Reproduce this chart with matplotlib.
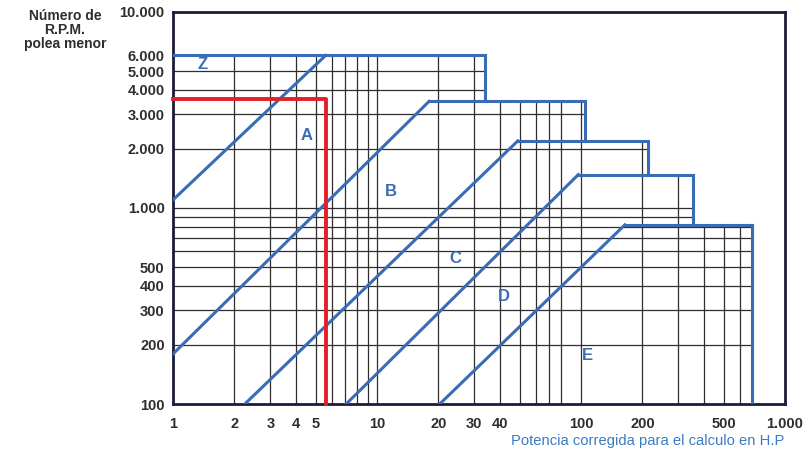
import matplotlib.pyplot as plt
from matplotlib.patches import Polygon

# axis ticks
hp_ticks = [1, 2, 3, 4, 5, 10, 20, 30, 40, 100, 200, 500, 1000]
hp_labels = ['1', '2', '3', '4', '5', '10', '20', '30', '40', '100', '200', '500', '1.000']
rpm_ticks = [100, 200, 300, 400, 500, 1000, 2000, 3000, 4000, 5000, 6000, 10000]
rpm_labels = ['100', '200', '300', '400', '500', '1.000', '2.000', '3.000', '4.000',
              '5.000', '6.000', '10.000']

# grid lines (only drawn inside the stepped region)
grid_hp = [2, 3, 4, 5, 6, 7, 8, 9, 10, 20, 30, 40, 50, 60, 70, 80, 100, 200, 300, 400, 500, 600]
grid_rpm = [200, 300, 400, 500, 600, 700, 800, 900, 1000, 2000, 3000, 4000, 5000]

# staircase: each section's top (rpm), where its top line starts and where it ends (HP)
step_top = [6000, 3500, 2200, 1480, 820]
step_start = [1, 18, 49, 97, 164]
step_end = [34, 105, 212, 356, 690]

# diagonal section boundaries (HP, rpm) start -> end
diag_hp0 = [1, 1, 2.25, 7.06, 20.3]
diag_rpm0 = [1100, 180, 100, 100, 100]
diag_hp1 = [5.6, 18, 49, 97, 164]
diag_rpm1 = [6000, 3500, 2200, 1480, 820]

# section names
sections = ['Z', 'A', 'B', 'C', 'D', 'E']
sec_hp = [1.4, 4.5, 11.7, 24.3, 42, 108]
sec_rpm = [5400, 2350, 1220, 555, 355, 177]

# selected point (red)
sel_hp = 5.6
sel_rpm = 3600

blue = '#3a6cb5'
dark = '#2e2e2e'
navy = '#1c1c3a'

fig = plt.figure(figsize=(8.04, 4.55), dpi=100)
ax = fig.add_axes([173 / 804, 1 - 404 / 455, 612 / 804, 392 / 455])
ax.set_xscale('log')
ax.set_yscale('log')
ax.set_xlim(1, 1000)
ax.set_ylim(100, 10000)

# clip region for the grid
verts = [(1, 100), (1, step_top[0])]
for i in range(len(step_top)):
    verts.append((step_end[i], step_top[i]))
    nxt = step_top[i + 1] if i + 1 < len(step_top) else 100
    verts.append((step_end[i], nxt))
region = Polygon(verts, closed=True, transform=ax.transData)

vl = ax.vlines(grid_hp, 100, 10000, colors=dark, linewidth=0.9, zorder=1)
hl = ax.hlines(grid_rpm, 1, 1000, colors=dark, linewidth=0.9, zorder=1)
vl.set_clip_path(region)
hl.set_clip_path(region)

# staircase outline
for i in range(len(step_top)):
    ax.plot([step_start[i], step_end[i]], [step_top[i], step_top[i]], color=blue, lw=2.2, zorder=3)
    nxt = step_top[i + 1] if i + 1 < len(step_top) else 100
    ax.plot([step_end[i], step_end[i]], [step_top[i], nxt], color=blue, lw=2.2, zorder=3)

for i in range(len(diag_hp0)):
    ax.plot([diag_hp0[i], diag_hp1[i]], [diag_rpm0[i], diag_rpm1[i]], color=blue, lw=2.2, zorder=3)

for name, x, y in zip(sections, sec_hp, sec_rpm):
    ax.text(x, y, name, color=blue, fontsize=12, fontweight='bold',
            family='Liberation Sans', ha='center', va='center', zorder=4)

# red selection lines
ax.plot([1, sel_hp, sel_hp], [sel_rpm, sel_rpm, 100], color='#e3202a', lw=2.8,
        solid_capstyle='projecting', clip_on=False, zorder=5)

ax.set_xticks(hp_ticks)
ax.set_xticklabels(hp_labels)
ax.set_yticks(rpm_ticks)
ax.set_yticklabels(rpm_labels)
ax.minorticks_off()
ax.tick_params(length=0, labelsize=10.5, labelcolor=dark)
ax.tick_params(axis='x', pad=9)
ax.tick_params(axis='y', pad=6)
for lab in ax.get_xticklabels() + ax.get_yticklabels():
    lab.set_fontweight('bold')
    lab.set_family('Liberation Sans')

for s in ax.spines.values():
    s.set_color(navy)
    s.set_linewidth(2)

fig.text(65 / 804, 1 - 30 / 455, 'Número de\nR.P.M.\npolea menor', ha='center', va='center',
         fontsize=10, fontweight='bold', color=dark, family='Liberation Sans', linespacing=1.0)
fig.text(648 / 804, 1 - 441 / 455, 'Potencia corregida para el calculo en H.P', ha='center',
         va='center', fontsize=10.6, color='#3c7cc4', family='Liberation Sans')

fig.savefig('out.png', dpi=100, facecolor='white')
